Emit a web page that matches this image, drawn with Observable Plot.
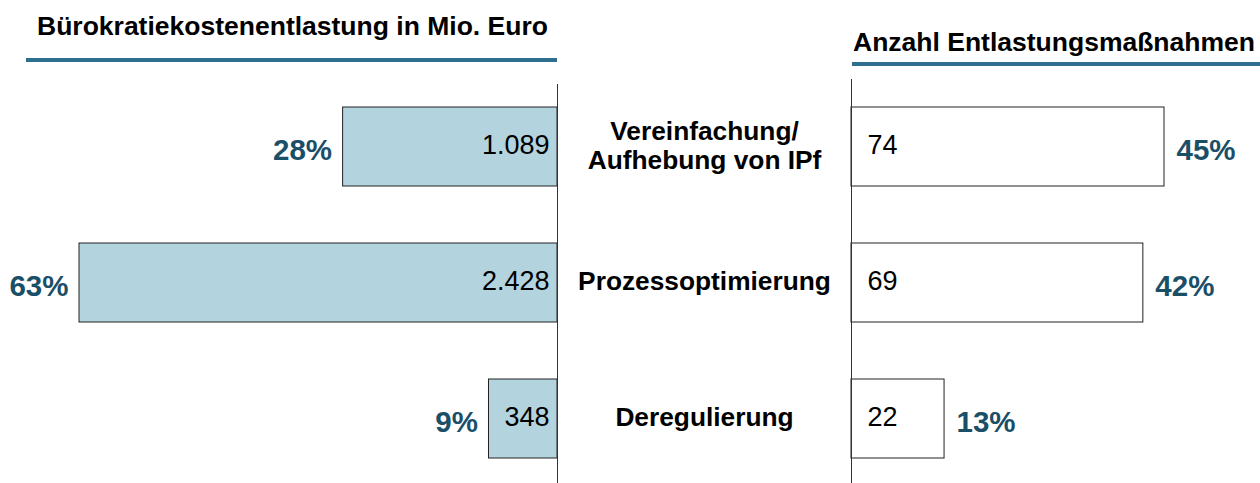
<!DOCTYPE html>
<html><head><meta charset="utf-8">
<script src="https://cdn.jsdelivr.net/npm/d3@7"></script>
<script src="https://cdn.jsdelivr.net/npm/@observablehq/plot@0.6"></script>
<style>
body{margin:0;background:#fff;}
#chart{position:relative;width:1260px;height:483px;font-family:"Liberation Sans",Arial,sans-serif;overflow:hidden;}
#chart svg{position:absolute;left:0;top:0;}
.title{position:absolute;font-weight:bold;font-size:26.5px;line-height:26.5px;color:#000;white-space:nowrap;}
.rule{position:absolute;height:4px;background:#2e6e8e;}
</style></head><body><div id="chart"></div>
<script>
const categories = ["Vereinfachung/\nAufhebung von IPf", "Prozessoptimierung", "Deregulierung"];
const costValues = [1089, 2428, 348];
const costShares = [28, 63, 9];
const countValues = [74, 69, 22];
const countShares = [45, 42, 13];
const titleLeft = "Bürokratiekostenentlastung in Mio. Euro";
const titleRight = "Anzahl Entlastungsmaßnahmen";

const de = d3.formatLocale({decimal: ",", thousands: ".", grouping: [3], currency: ["", " €"]});
const fmt = de.format(",d");

const left = categories.map((c, i) => ({cat: c, value: costValues[i], share: costShares[i]}));
const right = categories.map((c, i) => ({cat: c, value: countValues[i], share: countShares[i]}));

const FONT = '"Liberation Sans", Arial, sans-serif';
const yScale = {type: "band", domain: categories, range: [78.5, 486.5], paddingInner: 0.419, paddingOuter: 0.2095, axis: null};
const teal = "#1b4f68";

const leftPlot = Plot.plot({
  width: 1260, height: 483,
  marginTop: 84, marginBottom: 0, marginLeft: 0, marginRight: 0,
  style: {background: "transparent", fontFamily: FONT},
  x: {domain: [0, 2428], range: [557, 79], axis: null},
  y: yScale,
  marks: [
    Plot.barX(left, {x: "value", y: "cat", fill: "#b3d3de", stroke: "#222", strokeWidth: 1}),
    Plot.ruleX([0], {stroke: "#333", strokeWidth: 1}),
    Plot.text(left, {x: 0, y: "cat", text: d => fmt(d.value), textAnchor: "end", dx: -8, dy: -2, fontSize: 27, fill: "#000"}),
    Plot.text(left, {x: "value", y: "cat", text: d => d.share + "%", textAnchor: "end", dx: -11, dy: 4, fontSize: 29.5, fontWeight: "bold", fill: teal})
  ]
});

const rightPlot = Plot.plot({
  width: 1260, height: 483,
  marginTop: 79, marginBottom: 0, marginLeft: 0, marginRight: 0,
  style: {background: "transparent", fontFamily: FONT},
  x: {domain: [0, 74], range: [851, 1164], axis: null},
  y: yScale,
  marks: [
    Plot.barX(right, {x: "value", y: "cat", fill: "#fff", stroke: "#222", strokeWidth: 1}),
    Plot.ruleX([0], {stroke: "#333", strokeWidth: 1}),
    Plot.text(right, {x: 0, y: "cat", text: d => fmt(d.value), textAnchor: "start", dx: 16, dy: -2, fontSize: 27, fill: "#000"}),
    Plot.text(right, {x: "value", y: "cat", text: d => d.share + "%", textAnchor: "start", dx: 12, dy: 4, fontSize: 29.5, fontWeight: "bold", fill: teal}),
    Plot.text(right, {x: 0, y: "cat", text: "cat", textAnchor: "middle", dx: -147, dy: -2, fontSize: 26.3, fontWeight: "bold", lineHeight: 1.12, fill: "#000"})
  ]
});

const chart = document.getElementById("chart");
chart.appendChild(leftPlot);
chart.appendChild(rightPlot);

function addTitle(text, x, top) {
  const d = document.createElement("div");
  d.className = "title"; d.textContent = text;
  d.style.left = x + "px"; d.style.top = top + "px";
  chart.appendChild(d);
}
function addRule(x, w, top) {
  const d = document.createElement("div");
  d.className = "rule";
  d.style.left = x + "px"; d.style.width = w + "px"; d.style.top = top + "px";
  chart.appendChild(d);
}
addTitle(titleLeft, 37, 12.5);
addTitle(titleRight, 853, 28.5);
addRule(26, 531, 58);
addRule(852, 408, 62);
</script></body></html>
